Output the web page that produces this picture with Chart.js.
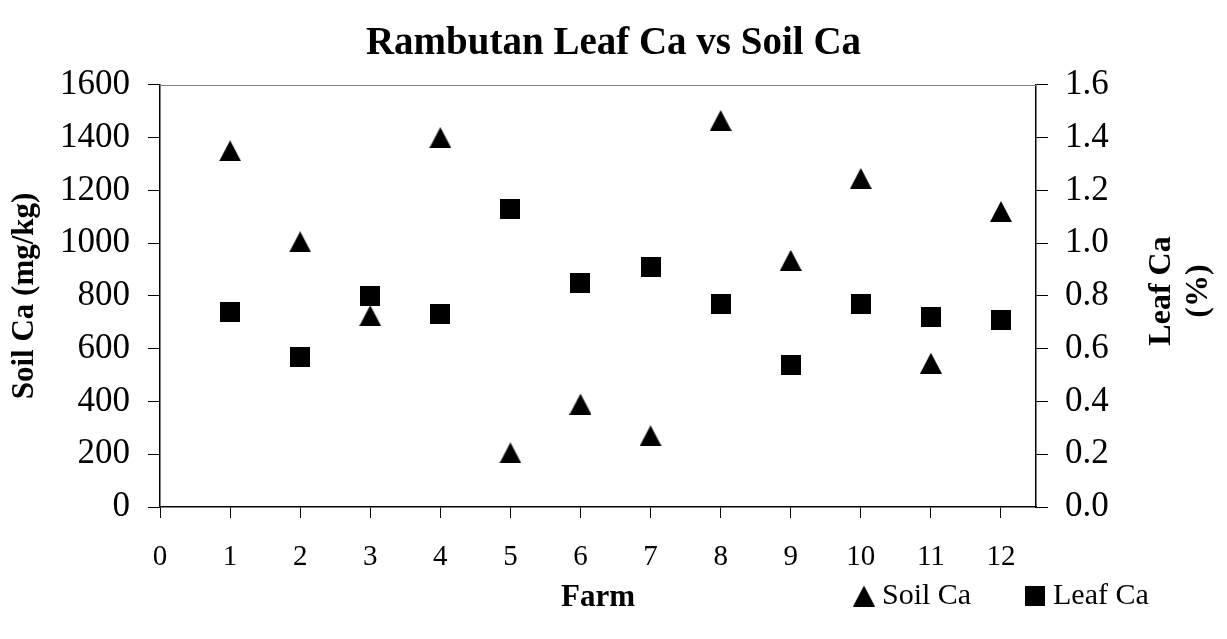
<!DOCTYPE html>
<html>
<head>
<meta charset="utf-8">
<title>Rambutan Leaf Ca vs Soil Ca</title>
<script src="https://cdn.jsdelivr.net/npm/chart.js@4.4.1/dist/chart.umd.min.js"></script>
<style>
  html, body { margin: 0; padding: 0; background: #fff; }
  #wrap { width: 1227px; height: 639px; }
</style>
</head>
<body>
<div id="wrap"><canvas id="chart" width="1227" height="639"></canvas></div>
<script>
// values
const farms  = [1, 2, 3, 4, 5, 6, 7, 8, 9, 10, 11, 12];
const soilCa = [1350, 1005, 725, 1400, 205, 390, 270, 1465, 935, 1245, 545, 1120];   // mg/kg, left axis
const leafCa = [0.74, 0.57, 0.80, 0.73, 1.13, 0.85, 0.91, 0.77, 0.54, 0.77, 0.72, 0.71]; // %, right axis

const farmTicks = [0, 1, 2, 3, 4, 5, 6, 7, 8, 9, 10, 11, 12];
const soilTicks = [0, 200, 400, 600, 800, 1000, 1200, 1400, 1600];
const leafTicks = [0, 0.2, 0.4, 0.6, 0.8, 1.0, 1.2, 1.4, 1.6];

const SERIF = "'Liberation Serif', 'Times New Roman', Times, serif";

function marker(shape, w, h) {
    const c = document.createElement('canvas');
    c.width = w;
    c.height = h;
    const g = c.getContext('2d');
    g.fillStyle = '#000';
    if (shape === 'triangle') {
        g.beginPath();
        g.moveTo(w / 2, 0);
        g.lineTo(w, h);
        g.lineTo(0, h);
        g.closePath();
        g.fill();
    } else {
        g.fillRect(0, 0, w, h);
    }
    return c;
}

const triangleImg = marker('triangle', 22, 21);
const squareImg = marker('square', 20, 20);

// gray top edge of the plot area
const topEdge = {
    id: 'topEdge',
    afterDraw(chart) {
        const { ctx, chartArea } = chart;
        ctx.save();
        ctx.strokeStyle = '#808080';
        ctx.lineWidth = 1;
        ctx.beginPath();
        ctx.moveTo(chartArea.left, Math.round(chartArea.top) + 0.5);
        ctx.lineTo(chartArea.right, Math.round(chartArea.top) + 0.5);
        ctx.stroke();
        ctx.restore();
    }
};

// right axis title reads bottom-to-top, like the left one
const rightTitle = {
    id: 'rightTitle',
    afterDraw(chart) {
        const ctx = chart.ctx;
        const lines = ['Leaf Ca', '(%)'];
        const baselines = [1170, 1207];
        ctx.save();
        ctx.fillStyle = '#000';
        ctx.font = 'bold 32px ' + SERIF;
        ctx.textAlign = 'center';
        ctx.textBaseline = 'alphabetic';
        lines.forEach(function (txt, i) {
            ctx.save();
            ctx.translate(baselines[i], 291);
            ctx.rotate(-Math.PI / 2);
            ctx.fillText(txt, 0, 0);
            ctx.restore();
        });
        ctx.restore();
    }
};

// legend sits on the same row as the x axis title
const legendRow = {
    id: 'legendRow',
    afterDraw(chart) {
        const ctx = chart.ctx;
        const spots = [864, 1035];
        const y = 596;
        ctx.save();
        ctx.fillStyle = '#000';
        ctx.font = '30px ' + SERIF;
        ctx.textAlign = 'left';
        ctx.textBaseline = 'middle';
        chart.data.datasets.forEach(function (ds, i) {
            const img = ds.pointStyle;
            ctx.drawImage(img, spots[i] - img.width / 2, y - img.height / 2);
            ctx.fillText(ds.label, spots[i] + 18, y);
        });
        ctx.restore();
    }
};

const tickFont = { family: SERIF, size: 35 };

new Chart(document.getElementById('chart'), {
    type: 'scatter',
    data: {
        datasets: [{
            label: 'Soil Ca',
            data: farms.map((f, i) => ({ x: f, y: soilCa[i] })),
            yAxisID: 'y',
            pointStyle: triangleImg,
            pointRadius: 11,
            backgroundColor: '#000',
            borderColor: '#000'
        }, {
            label: 'Leaf Ca',
            data: farms.map((f, i) => ({ x: f, y: leafCa[i] })),
            yAxisID: 'y1',
            pointStyle: squareImg,
            pointRadius: 10,
            backgroundColor: '#000',
            borderColor: '#000'
        }]
    },
    options: {
        responsive: false,
        animation: false,
        events: [],
        layout: { padding: 0 },
        scales: {
            x: {
                type: 'linear',
                min: 0,
                max: 12.5,
                afterBuildTicks: s => { s.ticks = farmTicks.map(v => ({ value: v })); },
                afterFit: s => { s.height = 132; },
                grid: { drawOnChartArea: false, drawTicks: true, tickLength: 11, tickColor: '#000' },
                border: { color: '#000', width: 1.5 },
                ticks: { font: { family: SERIF, size: 29 }, color: '#000', padding: 22, maxRotation: 0, autoSkip: false },
                title: {
                    display: true,
                    text: 'Farm',
                    color: '#000',
                    font: { family: SERIF, size: 31, weight: 'bold' },
                    padding: { top: 0, bottom: 22 }
                }
            },
            y: {
                position: 'left',
                min: 0,
                max: 1600,
                afterBuildTicks: s => { s.ticks = soilTicks.map(v => ({ value: v })); },
                afterFit: s => { s.width = 160; },
                grid: { drawOnChartArea: false, drawTicks: true, tickLength: 12, tickColor: '#000' },
                border: { color: '#000', width: 1.5 },
                ticks: { font: tickFont, color: '#000', padding: 18, callback: v => String(v) },
                title: {
                    display: true,
                    text: 'Soil Ca (mg/kg)',
                    color: '#000',
                    font: { family: SERIF, size: 31, weight: 'bold' },
                    padding: { top: 6, bottom: 0 }
                }
            },
            y1: {
                position: 'right',
                min: 0,
                max: 1.6,
                afterBuildTicks: s => { s.ticks = leafTicks.map(v => ({ value: v })); },
                afterFit: s => { s.width = 191; },
                grid: { drawOnChartArea: false, drawTicks: true, tickLength: 12, tickColor: '#000' },
                border: { color: '#000', width: 1.5 },
                ticks: {
                    font: tickFont,
                    color: '#000',
                    padding: 17,
                    callback: v => v.toFixed(1)
                }
            }
        },
        plugins: {
            legend: { display: false },
            tooltip: { enabled: false },
            title: {
                display: true,
                text: 'Rambutan Leaf Ca vs Soil Ca',
                color: '#000',
                font: { family: SERIF, size: 39, weight: 'bold', lineHeight: 1.1 },
                padding: { top: 22, bottom: 20 }
            }
        }
    },
    plugins: [topEdge, rightTitle, legendRow]
});
</script>
</body>
</html>
